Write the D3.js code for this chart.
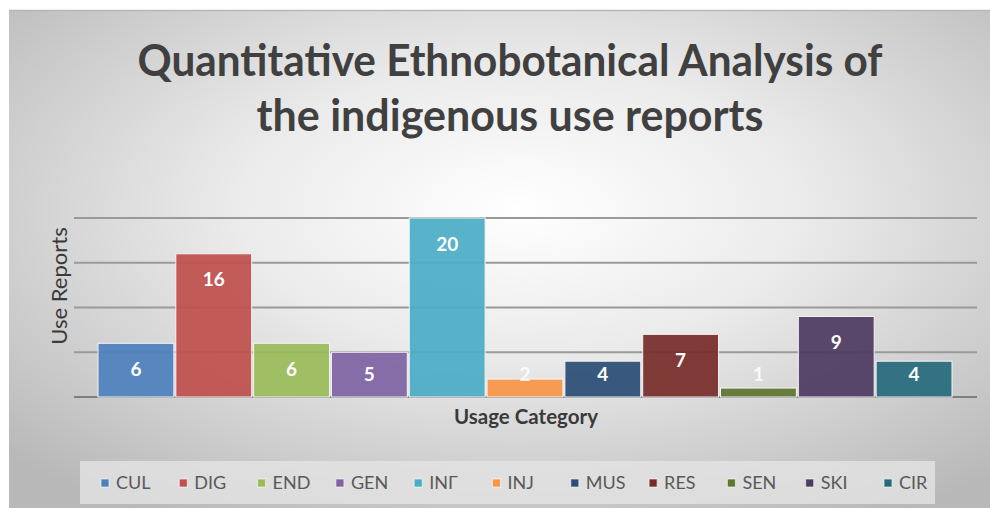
<!DOCTYPE html>
<html><head><meta charset="utf-8">
<script src="https://cdn.jsdelivr.net/npm/d3@7"></script>
<style>body{margin:0;background:#fff;}svg{display:block;}</style>
</head><body>
<svg id="c" width="990" height="509"></svg>
<script>
const titleLines = ["Quantitative Ethnobotanical Analysis of", "the indigenous use reports"];
const categories = ["CUL","DIG","END","GEN","INF","INJ","MUS","RES","SEN","SKI","CIR"];
const legendLabels = ["CUL","DIG","END","GEN","INΓ","INJ","MUS","RES","SEN","SKI","CIR"];
const values = [6,16,6,5,20,2,4,7,1,9,4];
const colors = ["#4f81bd","#c0504d","#9bbb59","#8064a2","#4bacc6","#f79646","#2c4d75","#772c2a","#5f7530","#4d3b62","#276a7c"];
const yTicks = [0,5,10,15,20];
const yTitle = "Use Reports", xTitle = "Usage Category";

const svg = d3.select("#c");
const defs = svg.append("defs");
const rg = defs.append("radialGradient").attr("id","bg").attr("cx","52%").attr("cy","40%").attr("r","72%");
rg.append("stop").attr("offset","0%").attr("stop-color","#ffffff");
rg.append("stop").attr("offset","40%").attr("stop-color","#ebebeb");
rg.append("stop").attr("offset","100%").attr("stop-color","#b8b8b8");
svg.append("rect").attr("x",9).attr("y",10).attr("width",981).attr("height",498).attr("fill","url(#bg)");
svg.append("line").attr("x1",9).attr("x2",990).attr("y1",10.5).attr("y2",10.5).attr("stroke","#b8b8b8").attr("stroke-width",1.5);

const font = "Lato, 'Open Sans', sans-serif";
const tw = [745, 507];
titleLines.forEach((t,i)=>{
  svg.append("text").attr("x",510).attr("y",[76,131][i]).attr("text-anchor","middle")
    .attr("font-family",font).attr("font-weight","bold").attr("font-size",43).attr("fill","#404040")
    .attr("textLength",tw[i]).attr("lengthAdjust","spacingAndGlyphs").text(t);
});

const x = d3.scaleBand().domain(categories).range([98,952]).paddingInner(0.025).paddingOuter(0);
const y = d3.scaleLinear().domain([0,20]).range([397,218]);

const g = svg.append("g");
g.selectAll("line.grid").data(yTicks).join("line").attr("class","grid")
  .attr("x1",74).attr("x2",977).attr("y1",d=>y(d)).attr("y2",d=>y(d))
  .attr("stroke",d=>d===0?"#7f7f7f":"#9a9a9a").attr("stroke-width",d=>d===0?2.2:2);

g.selectAll("rect.bar").data(values).join("rect").attr("class","bar")
  .attr("x",(d,i)=>x(categories[i])).attr("width",x.bandwidth())
  .attr("y",d=>y(d)).attr("height",d=>y(0)-y(d))
  .attr("fill",(d,i)=>colors[i]).attr("fill-opacity",0.93)
  .attr("stroke","#f4f4f4").attr("stroke-width",1);

g.selectAll("text.lab").data(values).join("text").attr("class","lab")
  .attr("x",(d,i)=>x(categories[i])+x.bandwidth()/2)
  .attr("y",d=>Math.min(y(d)+26, y(0)-23)).attr("dy","0.35em")
  .attr("text-anchor","middle").attr("font-family",font).attr("font-weight","bold")
  .attr("font-size",19).attr("fill","#ffffff").attr("fill-opacity",d=>d<3?0.85:1).text(d=>d);

svg.append("text").attr("transform","translate(67,286) rotate(-90)").attr("text-anchor","middle")
  .attr("font-family",font).attr("font-size",22).attr("fill","#3a3a3a").text(yTitle);
svg.append("text").attr("x",526).attr("y",424).attr("text-anchor","middle")
  .attr("font-family",font).attr("font-weight","bold").attr("font-size",20.5).attr("fill","#3a3a3a").text(xTitle);

svg.append("rect").attr("x",80).attr("y",461).attr("width",855).attr("height",43).attr("fill","#e4e4e4").attr("fill-opacity",0.8);
const lx = d3.scalePoint().domain(categories).range([101,884]);
const lg = svg.append("g").selectAll("g").data(categories).join("g")
  .attr("transform",(d,i)=>`translate(${lx(d)},483)`);
lg.append("rect").attr("x",0).attr("y",-4).attr("width",8).attr("height",8).attr("fill",(d,i)=>colors[i])
  .attr("stroke","#ffffff").attr("stroke-opacity",0.6);
lg.append("text").attr("x",15).attr("dy","0.35em").attr("font-family",font)
  .attr("font-size",18).attr("fill","#595959").text((d,i)=>legendLabels[i]);
</script>
</body></html>
